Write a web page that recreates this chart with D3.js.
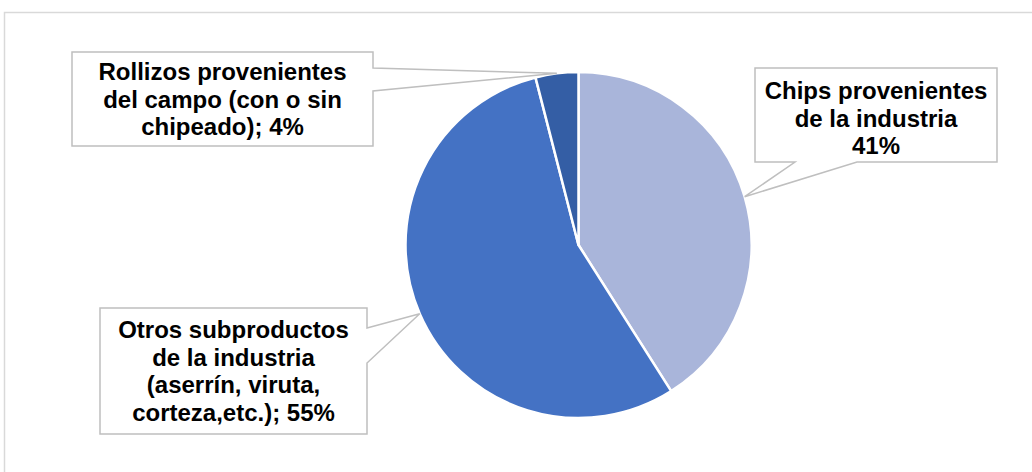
<!DOCTYPE html>
<html>
<head>
<meta charset="utf-8">
<script src="https://cdn.jsdelivr.net/npm/d3@7"></script>
<style>
  body { margin: 0; background: #fff; }
  svg { display: block; font-family: "Liberation Sans", Arial, sans-serif; }
</style>
</head>
<body>
<div id="chart"></div>
<script>
// chart data
var categories = ["Chips provenientes de la industria", "Otros subproductos de la industria (aserrín, viruta, corteza,etc.)", "Rollizos provenientes del campo (con o sin chipeado)"];
var values = [41, 55, 4];
var labelLines = [
    ["Chips provenientes", "de la industria", "41%"],
    ["Otros subproductos", "de la industria", "(aserrín, viruta,", "corteza,etc.); 55%"],
    ["Rollizos provenientes", "del campo (con o sin", "chipeado); 4%"]
];
var colors = ["#A9B5DA", "#4472C4", "#345EA5"];

var width = 1032, height = 472;
var cx = 578.5, cy = 245, radius = 173;

var svg = d3.select("#chart").append("svg")
    .attr("width", width)
    .attr("height", height);

// outer chart border
svg.append("rect")
    .attr("x", 4.5).attr("y", 12.5)
    .attr("width", width + 20).attr("height", height + 20)
    .attr("fill", "#fff")
    .attr("stroke", "#d9d9d9")
    .attr("stroke-width", 1.5);

var pie = d3.pie().sort(null).value(function(d) { return d; });
var arcs = pie(values);

var arc = d3.arc().innerRadius(0).outerRadius(radius);
var edgeArc = d3.arc().innerRadius(radius).outerRadius(radius);

var chart = svg.append("g")
    .attr("transform", "translate(" + cx + "," + cy + ")");

chart.selectAll("path.slice")
    .data(arcs)
    .enter().append("path")
    .attr("class", "slice")
    .attr("d", arc)
    .attr("fill", function(d, i) { return colors[i]; })
    .attr("stroke", "#fff")
    .attr("stroke-width", 2.5)
    .attr("stroke-linejoin", "round");

// callout boxes: box rect, side of pointer, pointer base positions
var boxes = [
    { x0: 755, y0: 68, x1: 997, y1: 162, side: "bottom", b1: 795, b2: 857, textY: 99 },
    { x0: 100, y0: 308, x1: 367, y1: 434, side: "right", b1: 328, b2: 363, textY: 338 },
    { x0: 72, y0: 52, x1: 373, y1: 146, side: "right", b1: 68, b2: 91, textY: 80 }
];
var lineHeight = 27.5;

function calloutPath(b, tip) {
    var tx = tip[0] + cx, ty = tip[1] + cy;
    if (b.side == "right") {
        return "M" + b.x0 + "," + b.y0 + "H" + b.x1 + "V" + b.b1 +
            "L" + tx + "," + ty + "L" + b.x1 + "," + b.b2 +
            "V" + b.y1 + "H" + b.x0 + "Z";
    }
    return "M" + b.x0 + "," + b.y0 + "H" + b.x1 + "V" + b.y1 +
        "H" + b.b2 + "L" + tx + "," + ty + "L" + b.b1 + "," + b.y1 +
        "H" + b.x0 + "Z";
}

var callouts = svg.append("g").attr("class", "labels")
    .selectAll("g")
    .data(arcs)
    .enter().append("g");

callouts.append("path")
    .attr("d", function(d, i) { return calloutPath(boxes[i], edgeArc.centroid(d)); })
    .attr("fill", "#fff")
    .attr("stroke", "#bfbfbf")
    .attr("stroke-width", 1.5)
    .attr("stroke-linejoin", "miter");

callouts.append("text")
    .attr("text-anchor", "middle")
    .attr("font-size", "24px")
    .attr("font-weight", "bold")
    .attr("fill", "#000")
    .each(function(d, i) {
        var b = boxes[i];
        d3.select(this).selectAll("tspan")
            .data(labelLines[i])
            .enter().append("tspan")
            .attr("x", (b.x0 + b.x1) / 2)
            .attr("y", function(t, j) { return b.textY + j * lineHeight; })
            .text(function(t) { return t; });
    });
</script>
</body>
</html>
